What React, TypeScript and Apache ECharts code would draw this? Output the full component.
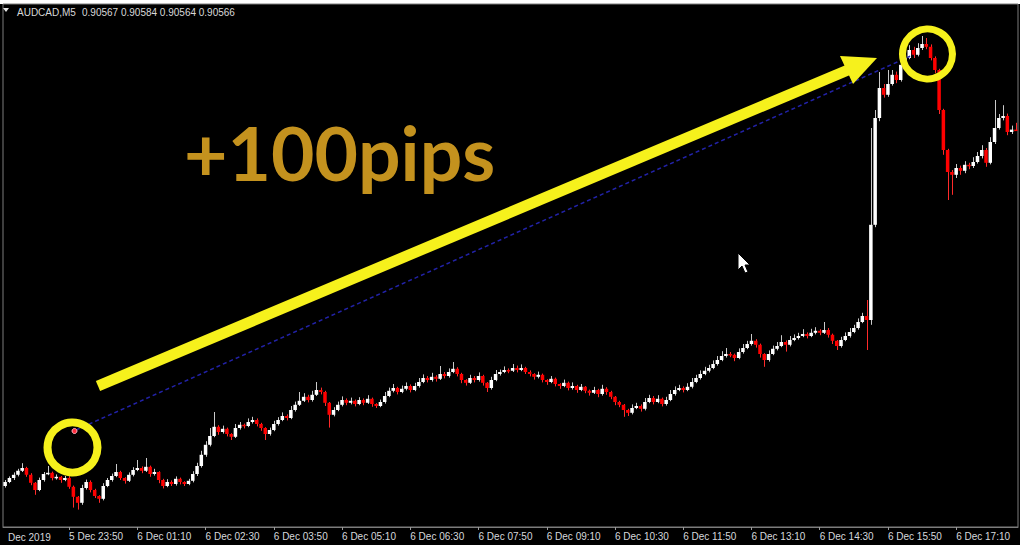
import React, { useEffect, useRef } from "react";
import * as echarts from "echarts";

const symbolTitle = "AUDCAD,M5";
const quoteTitle = "0.90567 0.90584 0.90564 0.90566";
const firstLabel = "Dec 2019";
const annotationText = "+100pips";

// first bar: 5 Dec 22:35, M5 bars
const firstBarDay = 5;
const firstBarMinute = 22 * 60 + 35;
const barMinutes = 5;

const tickLabels = [
  "5 Dec 23:50", "6 Dec 01:10", "6 Dec 02:30", "6 Dec 03:50", "6 Dec 05:10",
  "6 Dec 06:30", "6 Dec 07:50", "6 Dec 09:10", "6 Dec 10:30", "6 Dec 11:50",
  "6 Dec 13:10", "6 Dec 14:30", "6 Dec 15:50", "6 Dec 17:10",
];

const firstOpen = 0.89676;

const closes = [
  0.89686, 0.89696, 0.89704, 0.89714, 0.89721, 0.89704, 0.89684, 0.89666, 0.89691, 0.89706,
  0.89709, 0.89696, 0.89699, 0.89691, 0.89696, 0.89674, 0.89649, 0.89634, 0.89671, 0.89686,
  0.89666, 0.89651, 0.89644, 0.89676, 0.89691, 0.89701, 0.89711, 0.89696, 0.89689, 0.89704,
  0.89716, 0.89721, 0.89714, 0.89724, 0.89706, 0.89711, 0.89691, 0.89676, 0.89686, 0.89681,
  0.89694, 0.89686, 0.89681, 0.89689, 0.89706, 0.89726, 0.89754, 0.89779, 0.89801, 0.89824,
  0.89811, 0.89819, 0.89806, 0.89799, 0.89821, 0.89829, 0.89826, 0.89836, 0.89841, 0.89831,
  0.89821, 0.89806, 0.89816, 0.89831, 0.89841, 0.89851, 0.89846, 0.89866, 0.89879, 0.89889,
  0.89899, 0.89891, 0.89904, 0.89916, 0.89911, 0.89884, 0.89854, 0.89866, 0.89879, 0.89891,
  0.89884, 0.89889, 0.89881, 0.89891, 0.89884, 0.89894, 0.89881, 0.89876, 0.89886, 0.89901,
  0.89914, 0.89921, 0.89911, 0.89919, 0.89926, 0.89916, 0.89926, 0.89936, 0.89946, 0.89941,
  0.89949, 0.89944, 0.89956, 0.89951, 0.89961, 0.89969, 0.89956, 0.89941, 0.89934, 0.89946,
  0.89941, 0.89951, 0.89934, 0.89921, 0.89941, 0.89956, 0.89961, 0.89966, 0.89964, 0.89971,
  0.89966, 0.89971, 0.89961, 0.89956, 0.89949, 0.89954, 0.89941, 0.89936, 0.89944, 0.89931,
  0.89926, 0.89934, 0.89921, 0.89926, 0.89916, 0.89924, 0.89914, 0.89909, 0.89916, 0.89906,
  0.89919, 0.89911, 0.89899, 0.89886, 0.89879, 0.89866, 0.89859, 0.89871, 0.89876, 0.89869,
  0.89886, 0.89896, 0.89886, 0.89894, 0.89881, 0.89891, 0.89906, 0.89916, 0.89921, 0.89916,
  0.89924, 0.89936, 0.89946, 0.89956, 0.89964, 0.89971, 0.89981, 0.89991, 0.90001, 0.90006,
  0.90004, 0.89996, 0.90011, 0.90021, 0.90031, 0.90039, 0.90029, 0.90006, 0.89991, 0.90006,
  0.90019, 0.90026, 0.90036, 0.90029, 0.90041, 0.90046, 0.90051, 0.90056, 0.90051, 0.90059,
  0.90064, 0.90059, 0.90066, 0.90054, 0.90039, 0.90026, 0.90041, 0.90051, 0.90061, 0.90071,
  0.90086, 0.90101, 0.90091, 0.90329, 0.90596, 0.90671, 0.90654, 0.90681, 0.90704, 0.90691,
  0.90729, 0.90746, 0.90766, 0.90754, 0.90771, 0.90781, 0.90774, 0.90746, 0.90716, 0.90616,
  0.90516, 0.90461, 0.90454, 0.90471, 0.90464, 0.90479, 0.90476, 0.90486, 0.90501, 0.90516,
  0.90484, 0.90536, 0.90571, 0.90596, 0.90601, 0.90561, 0.90567, 0.90566,
];

// wick lengths above / below the body, in points (0.00001)
const wickUp = [
  5, 4, 6, 5, 12, 3, 4, 2, 6, 5,
  17, 3, 6, 2, 5, 20, 3, 2, 8, 6,
  4, 3, 2, 7, 5, 6, 20, 3, 2, 6,
  7, 20, 4, 22, 3, 8, 2, 3, 7, 4,
  6, 3, 2, 5, 7, 8, 10, 9, 20, 37,
  4, 8, 3, 2, 10, 7, 3, 9, 8, 4,
  3, 2, 6, 8, 7, 9, 4, 10, 8, 22,
  9, 5, 10, 20, 6, 3, 2, 7, 8, 9,
  4, 8, 3, 7, 4, 9, 3, 2, 6, 10,
  8, 10, 3, 8, 9, 4, 8, 10, 9, 5,
  10, 4, 20, 5, 9, 17, 4, 3, 2, 8,
  5, 9, 3, 2, 8, 10, 6, 9, 4, 10,
  6, 9, 3, 4, 2, 8, 3, 2, 7, 3,
  2, 8, 3, 9, 3, 7, 2, 3, 8, 3,
  10, 4, 3, 2, 3, 2, 3, 9, 8, 4,
  10, 8, 5, 9, 3, 8, 10, 9, 8, 4,
  9, 10, 8, 9, 10, 8, 9, 10, 12, 15,
  5, 3, 9, 10, 8, 17, 4, 3, 2, 9,
  8, 10, 17, 4, 10, 9, 8, 12, 4, 10,
  9, 4, 20, 5, 3, 2, 8, 9, 10, 8,
  9, 8, 40, 242, 20, 40, 10, 35, 12, 8,
  12, 10, 12, 8, 12, 20, 15, 6, 4, 3,
  3, 3, 5, 10, 6, 9, 5, 12, 10, 12,
  5, 12, 70, 10, 27, 6, 10, 17,
];

const wickDown = [
  4, 3, 5, 4, 3, 5, 6, 12, 3, 4,
  3, 6, 4, 7, 3, 5, 27, 17, 5, 4,
  6, 5, 10, 4, 3, 4, 3, 5, 7, 3,
  4, 3, 6, 3, 7, 4, 8, 6, 3, 5,
  4, 6, 5, 3, 4, 5, 4, 5, 4, 3,
  7, 4, 6, 8, 3, 4, 6, 3, 4, 6,
  7, 15, 4, 3, 4, 3, 6, 3, 4, 3,
  3, 6, 4, 3, 6, 8, 32, 4, 3, 4,
  6, 4, 6, 3, 6, 3, 7, 5, 3, 4,
  3, 4, 6, 3, 4, 6, 3, 4, 3, 6,
  4, 7, 3, 6, 4, 3, 6, 8, 7, 3,
  6, 4, 7, 10, 4, 3, 4, 3, 6, 3,
  6, 3, 5, 6, 7, 4, 6, 7, 3, 6,
  7, 3, 6, 4, 7, 3, 6, 7, 3, 8,
  4, 7, 6, 8, 6, 17, 8, 4, 3, 7,
  4, 3, 6, 3, 6, 4, 3, 4, 3, 6,
  3, 4, 3, 4, 3, 4, 3, 4, 3, 4,
  6, 8, 3, 4, 3, 4, 7, 9, 17, 4,
  3, 4, 3, 17, 4, 3, 4, 3, 6, 3,
  4, 6, 3, 7, 8, 10, 4, 3, 4, 3,
  4, 3, 75, 12, 6, 8, 7, 5, 4, 8,
  4, 5, 3, 8, 4, 5, 6, 6, 8, 10,
  12, 70, 50, 8, 10, 6, 8, 5, 4, 6,
  10, 4, 5, 4, 6, 8, 5, 2,
];

const YELLOW = "#f6f11c";
const UP_BODY = "#ffffff";
const UP_WICK = "#c9c9c9";
const DOWN_BODY = "#ff0000";
const DOWN_WICK = "#ff2a2a";

function barLabel(i: number): string {
  const total = firstBarMinute + i * barMinutes;
  const day = firstBarDay + Math.floor(total / 1440);
  const m = total % 1440;
  const hh = String(Math.floor(m / 60)).padStart(2, "0");
  const mm = String(m % 60).padStart(2, "0");
  return `${day} Dec ${hh}:${mm}`;
}

export default function App() {
  const ref = useRef<HTMLDivElement>(null);

  useEffect(() => {
    document.body.style.margin = "0";
    if (!ref.current) return;
    const chart = echarts.init(ref.current, undefined, { renderer: "svg" });

    const categories = closes.map((_, i) => barLabel(i));
    const candles = closes.map((c, i) => {
      const o = i === 0 ? firstOpen : closes[i - 1];
      const h = +(Math.max(o, c) + wickUp[i] / 100000).toFixed(5);
      const l = +(Math.min(o, c) - wickDown[i] / 100000).toFixed(5);
      return [i, o, c, l, h];
    });
    const showTick = (_i: number, v: string) => tickLabels.includes(v);

    const renderCandle = (_params: any, api: any) => {
      const idx = api.value(0);
      const o = api.value(1);
      const c = api.value(2);
      const l = api.value(3);
      const h = api.value(4);
      const pO = api.coord([idx, o]);
      const pC = api.coord([idx, c]);
      const pL = api.coord([idx, l]);
      const pH = api.coord([idx, h]);
      const band = api.size([1, 0])[0];
      const w = Math.max(3, band * 0.82);
      const up = c >= o;
      const top = Math.min(pO[1], pC[1]);
      const bottom = Math.max(pO[1], pC[1]);
      const xc = pO[0];
      const wx = Math.round(xc) + 0.5;
      return {
        type: "group",
        children: [
          {
            type: "line",
            shape: { x1: wx, y1: pH[1], x2: wx, y2: pL[1] },
            style: { stroke: up ? UP_WICK : DOWN_WICK, lineWidth: 1 },
          },
          {
            type: "rect",
            shape: { x: xc - w / 2, y: top, width: w, height: Math.max(1.5, bottom - top) },
            style: { fill: up ? UP_BODY : DOWN_BODY },
          },
        ],
      };
    };

    chart.setOption({
      animation: false,
      backgroundColor: "transparent",
      grid: {
        left: 3,
        right: 6,
        top: 4,
        bottom: 23,
        show: true,
        borderColor: "#7c7c7c",
        borderWidth: 1,
        backgroundColor: "transparent",
      },
      xAxis: {
        type: "category",
        data: categories,
        boundaryGap: true,
        axisLine: { show: true, lineStyle: { color: "#7c7c7c", width: 1 } },
        axisTick: {
          show: true,
          alignWithLabel: true,
          interval: showTick,
          length: 3,
          lineStyle: { color: "#9a9a9a" },
        },
        axisLabel: {
          interval: showTick,
          align: "left",
          margin: 4,
          color: "#d6d8dc",
          fontFamily: "Liberation Sans",
          fontSize: 10,
        },
        splitLine: { show: false },
      },
      yAxis: {
        type: "value",
        min: 0.895735,
        max: 0.90881,
        show: false,
        splitLine: { show: false },
      },
      series: [
        {
          type: "custom",
          data: candles,
          encode: { x: 0, y: [1, 2, 3, 4] },
          renderItem: renderCandle,
          clip: true,
        },
      ],
      graphic: [
        {
          type: "polygon",
          z: 100,
          shape: { points: [[3, 8], [9, 8], [6, 12]] },
          style: { fill: "#e6e6e6" },
        },
        {
          type: "text",
          z: 100,
          x: 17,
          y: 12,
          style: {
            text: symbolTitle,
            fill: "#d8d8d8",
            fontFamily: "Liberation Sans",
            fontSize: 10,
            verticalAlign: "middle",
            align: "left",
          },
        },
        {
          type: "text",
          z: 100,
          x: 82,
          y: 12,
          style: {
            text: quoteTitle,
            fill: "#d8d8d8",
            fontFamily: "Liberation Sans",
            fontSize: 10,
            verticalAlign: "middle",
            align: "left",
          },
        },
        {
          type: "text",
          z: 100,
          x: 8,
          y: 537,
          style: {
            text: firstLabel,
            fill: "#d6d8dc",
            fontFamily: "Liberation Sans",
            fontSize: 10,
            verticalAlign: "middle",
            align: "left",
          },
        },
        {
          type: "line",
          z: 100,
          shape: { x1: 76, y1: 430, x2: 913, y2: 55 },
          style: { stroke: "#2222a8", lineWidth: 1.5, lineDash: [4, 3] },
        },
        {
          type: "line",
          z: 101,
          shape: { x1: 98, y1: 386, x2: 848, y2: 70 },
          style: { stroke: YELLOW, lineWidth: 11, lineCap: "butt" },
        },
        {
          type: "polygon",
          z: 101,
          shape: { points: [[877, 58], [853, 84], [840, 56]] },
          style: { fill: YELLOW },
        },
        {
          type: "circle",
          z: 101,
          shape: { cx: 72.5, cy: 447.5, r: 25 },
          style: { fill: "transparent", stroke: YELLOW, lineWidth: 8 },
        },
        {
          type: "circle",
          z: 101,
          shape: { cx: 927.5, cy: 54, r: 25 },
          style: { fill: "transparent", stroke: YELLOW, lineWidth: 7 },
        },
        {
          type: "circle",
          z: 102,
          shape: { cx: 74.5, cy: 431, r: 2.5 },
          style: { fill: "#ff2a3a", stroke: "#ffb4c0", lineWidth: 1 },
        },
        {
          type: "text",
          z: 102,
          x: 184,
          y: 152,
          style: {
            text: annotationText,
            fill: "#c4921e",
            fontFamily: "Lato",
            fontWeight: "bold",
            fontSize: 75,
            verticalAlign: "middle",
            align: "left",
          },
        },
        {
          type: "polygon",
          z: 102,
          shape: {
            points: [[738, 253], [738, 270], [742, 266], [745, 273], [748, 272], [745, 265], [750, 265]],
          },
          style: { fill: "#ffffff", stroke: "#000000", lineWidth: 1 },
        },
      ],
    });

    return () => {
      chart.dispose();
    };
  }, []);

  return (
    <div style={{ position: "relative", width: 1024, height: 550, background: "#ffffff", overflow: "hidden" }}>
      <div style={{ position: "absolute", left: 0, top: 4, width: 1020, height: 541, background: "#000000" }} />
      <div ref={ref} style={{ position: "absolute", left: 0, top: 0, width: 1024, height: 550 }} />
    </div>
  );
}
